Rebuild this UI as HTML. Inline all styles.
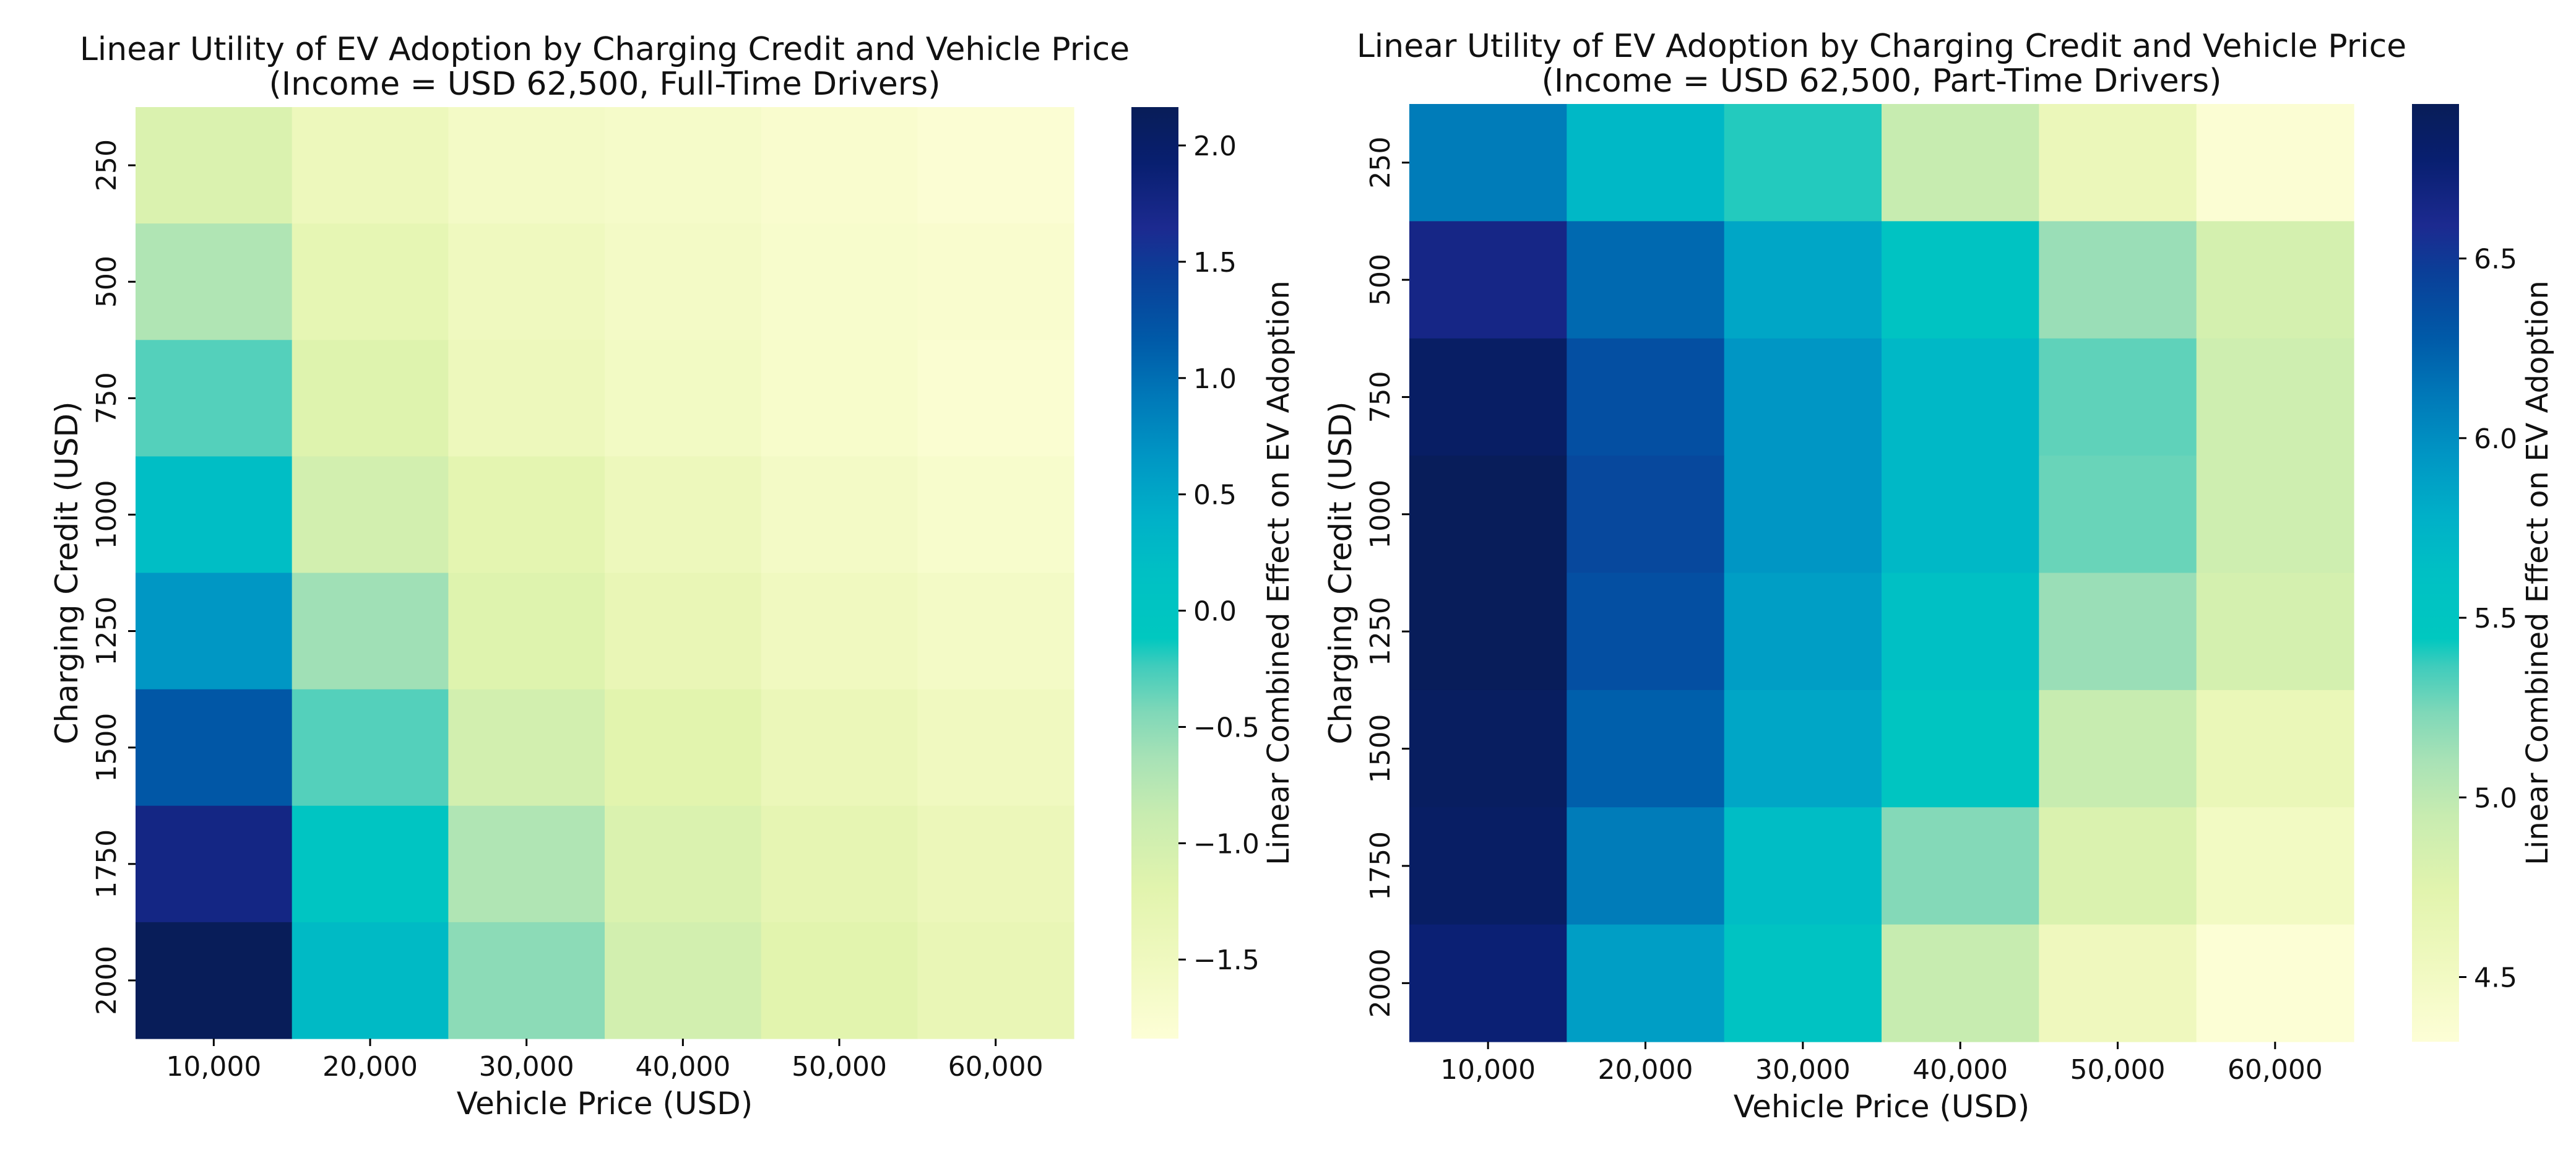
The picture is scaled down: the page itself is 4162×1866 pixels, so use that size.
<!DOCTYPE html>
<html><head><meta charset="utf-8">
<style>
html,body{margin:0;padding:0;background:#fff;}
svg{display:block;font-family:"DejaVu Sans","Liberation Sans",sans-serif;}
</style></head>
<body>
<svg id="fig" width="4162" height="1866" viewBox="0 0 4162 1866" xmlns="http://www.w3.org/2000/svg">
<defs>
<linearGradient id="cbgrad" x1="0" y1="1" x2="0" y2="0">
<stop offset="0" stop-color="#fdfed6"/>
<stop offset="0.08" stop-color="#f0f9c0"/>
<stop offset="0.16" stop-color="#e2f4ae"/>
<stop offset="0.24" stop-color="#c8ecb0"/>
<stop offset="0.30" stop-color="#a8e2b6"/>
<stop offset="0.35" stop-color="#80d8b8"/>
<stop offset="0.40" stop-color="#40ccbc"/>
<stop offset="0.43" stop-color="#00c8c0"/>
<stop offset="0.50" stop-color="#00c0c4"/>
<stop offset="0.56" stop-color="#00b0c8"/>
<stop offset="0.625" stop-color="#0096c4"/>
<stop offset="0.69" stop-color="#0078b8"/>
<stop offset="0.75" stop-color="#005aa8"/>
<stop offset="0.82" stop-color="#0a3f98"/>
<stop offset="0.87" stop-color="#1c2a90"/>
<stop offset="0.94" stop-color="#081f70"/>
<stop offset="1" stop-color="#081d58"/>
</linearGradient>
</defs>
</svg>
<script>
const categories = ["10,000","20,000","30,000","40,000","50,000","60,000"];
const credits = ["250","500","750","1000","1250","1500","1750","2000"];
const fullTimeValues = [
 [-1.10,-1.45,-1.60,-1.65,-1.73,-1.80],
 [-0.70,-1.30,-1.50,-1.60,-1.70,-1.73],
 [-0.30,-1.15,-1.45,-1.58,-1.68,-1.76],
 [0.20,-1.00,-1.25,-1.45,-1.60,-1.70],
 [0.65,-0.60,-1.15,-1.35,-1.52,-1.60],
 [1.20,-0.30,-1.00,-1.20,-1.40,-1.52],
 [1.75,0.00,-0.70,-1.10,-1.28,-1.42],
 [2.15,0.25,-0.50,-1.00,-1.20,-1.35]
];
const partTimeValues = [
 [6.10,5.70,5.40,4.95,4.60,4.35],
 [6.65,6.20,5.85,5.55,5.15,4.85],
 [6.85,6.35,5.95,5.70,5.30,4.90],
 [6.92,6.40,5.95,5.70,5.28,4.90],
 [6.92,6.35,5.90,5.62,5.15,4.85],
 [6.88,6.25,5.85,5.50,4.95,4.62],
 [6.85,6.10,5.65,5.22,4.80,4.50],
 [6.75,5.90,5.55,4.95,4.55,4.33]
];
const fullTimeTicks = [2.0,1.5,1.0,0.5,0.0,-0.5,-1.0,-1.5];
const partTimeTicks = [6.5,6.0,5.5,5.0,4.5];
const fullTimeRange = [-1.84,2.165];
const partTimeRange = [4.32,6.93];

const stops=[[0,"#fdfed6"],[0.08,"#f0f9c0"],[0.16,"#e2f4ae"],[0.24,"#c8ecb0"],[0.30,"#a8e2b6"],[0.35,"#80d8b8"],[0.40,"#40ccbc"],[0.43,"#00c8c0"],[0.50,"#00c0c4"],[0.56,"#00b0c8"],[0.625,"#0096c4"],[0.69,"#0078b8"],[0.75,"#005aa8"],[0.82,"#0a3f98"],[0.87,"#1c2a90"],[0.94,"#081f70"],[1,"#081d58"]];
function hex(c){return [parseInt(c.substr(1,2),16),parseInt(c.substr(3,2),16),parseInt(c.substr(5,2),16)];}
function cmap(f){f=Math.max(0,Math.min(1,f));for(let i=1;i<stops.length;i++){if(f<=stops[i][0]){const a=stops[i-1],b=stops[i];const t=(f-a[0])/(b[0]-a[0]);const ca=hex(a[1]),cb=hex(b[1]);return "rgb("+ca.map((v,k)=>Math.round(v+(cb[k]-v)*t)).join(",")+")";}}return stops[stops.length-1][1];}
const NS="http://www.w3.org/2000/svg";
const svg=document.getElementById('fig');
function mk(tag,attrs,parent,text){const e=document.createElementNS(NS,tag);for(const k in attrs)e.setAttribute(k,attrs[k]);if(text!==undefined)e.textContent=text;(parent||svg).appendChild(e);return e;}

function panel(cfg){
  const g=mk('g',{});
  
  
  const L=cfg.x0,T=cfg.y0,W=cfg.x1-cfg.x0,H=cfg.y1-cfg.y0;
  const cw=W/categories.length,ch=H/credits.length;
  const xScale=i=>L+i*cw, yScale=j=>T+j*ch;
  const [vmin,vmax]=cfg.range;
  cfg.values.forEach((row,j)=>row.forEach((v,i)=>{
    const r=mk('rect',{x:xScale(i),y:yScale(j),width:cw+0.6,height:ch+0.6,fill:cmap((v-vmin)/(vmax-vmin))},g);
    
    
  }));
  categories.forEach((c,i)=>{
    const cx=xScale(i)+cw/2;
    mk('line',{x1:cx,y1:cfg.y1,x2:cx,y2:cfg.y1+12,stroke:"#000","stroke-width":3},g);
    const t=mk('text',{x:cx,y:cfg.y1+60,"font-size":44,"text-anchor":"middle",fill:"#111"},g,c);
    
    
  });
  credits.forEach((c,j)=>{
    const cy=yScale(j)+ch/2;
    mk('line',{x1:L-12,y1:cy,x2:L,y2:cy,stroke:"#000","stroke-width":3},g);
    const t=mk('text',{x:0,y:0,"font-size":44,"text-anchor":"middle",fill:"#111",transform:`translate(${L-32},${cy}) rotate(-90)`},g,c);
    
    
  });
  const xl=mk('text',{x:L+W/2,y:cfg.y1+122,"font-size":50,"text-anchor":"middle",fill:"#111"},g,"Vehicle Price (USD)");
  
  
  const yl=mk('text',{x:0,y:0,"font-size":50,"text-anchor":"middle",fill:"#111",transform:`translate(${L-94},${T+H/2}) rotate(-90)`},g,"Charging Credit (USD)");
  
  
  const t1=mk('text',{x:L+W/2,y:T-76,"font-size":52,"text-anchor":"middle",fill:"#111"},g,"Linear Utility of EV Adoption by Charging Credit and Vehicle Price");
  
  
  const t2=mk('text',{x:L+W/2,y:T-20,"font-size":52,"text-anchor":"middle",fill:"#111"},g,cfg.subtitle);
  
  
  const cb=mk('rect',{x:cfg.cbx,y:T,width:76,height:H,fill:"url(#cbgrad)"},g);
  
  
  const cbY=v=>cfg.y1-(v-vmin)/(vmax-vmin)*H;
  cfg.ticks.forEach(v=>{
    const y=cbY(v);
    mk('line',{x1:cfg.cbx+76,y1:y,x2:cfg.cbx+88,y2:y,stroke:"#000","stroke-width":3},g);
    const lab=(v<0?"\u2212":"")+Math.abs(v).toFixed(1);
    const t=mk('text',{x:cfg.cbx+100,y:y+16,"font-size":44,fill:"#111"},g,lab);
    
    
  });
  const cl=mk('text',{x:0,y:0,"font-size":48,"text-anchor":"middle",fill:"#111",transform:`translate(${cfg.cblx},${T+H/2}) rotate(-90)`},g,"Linear Combined Effect on EV Adoption");
  
  
}
panel({name:'full-time-heatmap',x0:219,x1:1735,y0:173,y1:1678,values:fullTimeValues,range:fullTimeRange,ticks:fullTimeTicks,cbx:1828,cblx:2082,subtitle:"(Income = USD 62,500, Full-Time Drivers)"});
panel({name:'part-time-heatmap',x0:2277,x1:3803,y0:168,y1:1683,values:partTimeValues,range:partTimeRange,ticks:partTimeTicks,cbx:3897,cblx:4116,subtitle:"(Income = USD 62,500, Part-Time Drivers)"});
</script>
</body></html>
